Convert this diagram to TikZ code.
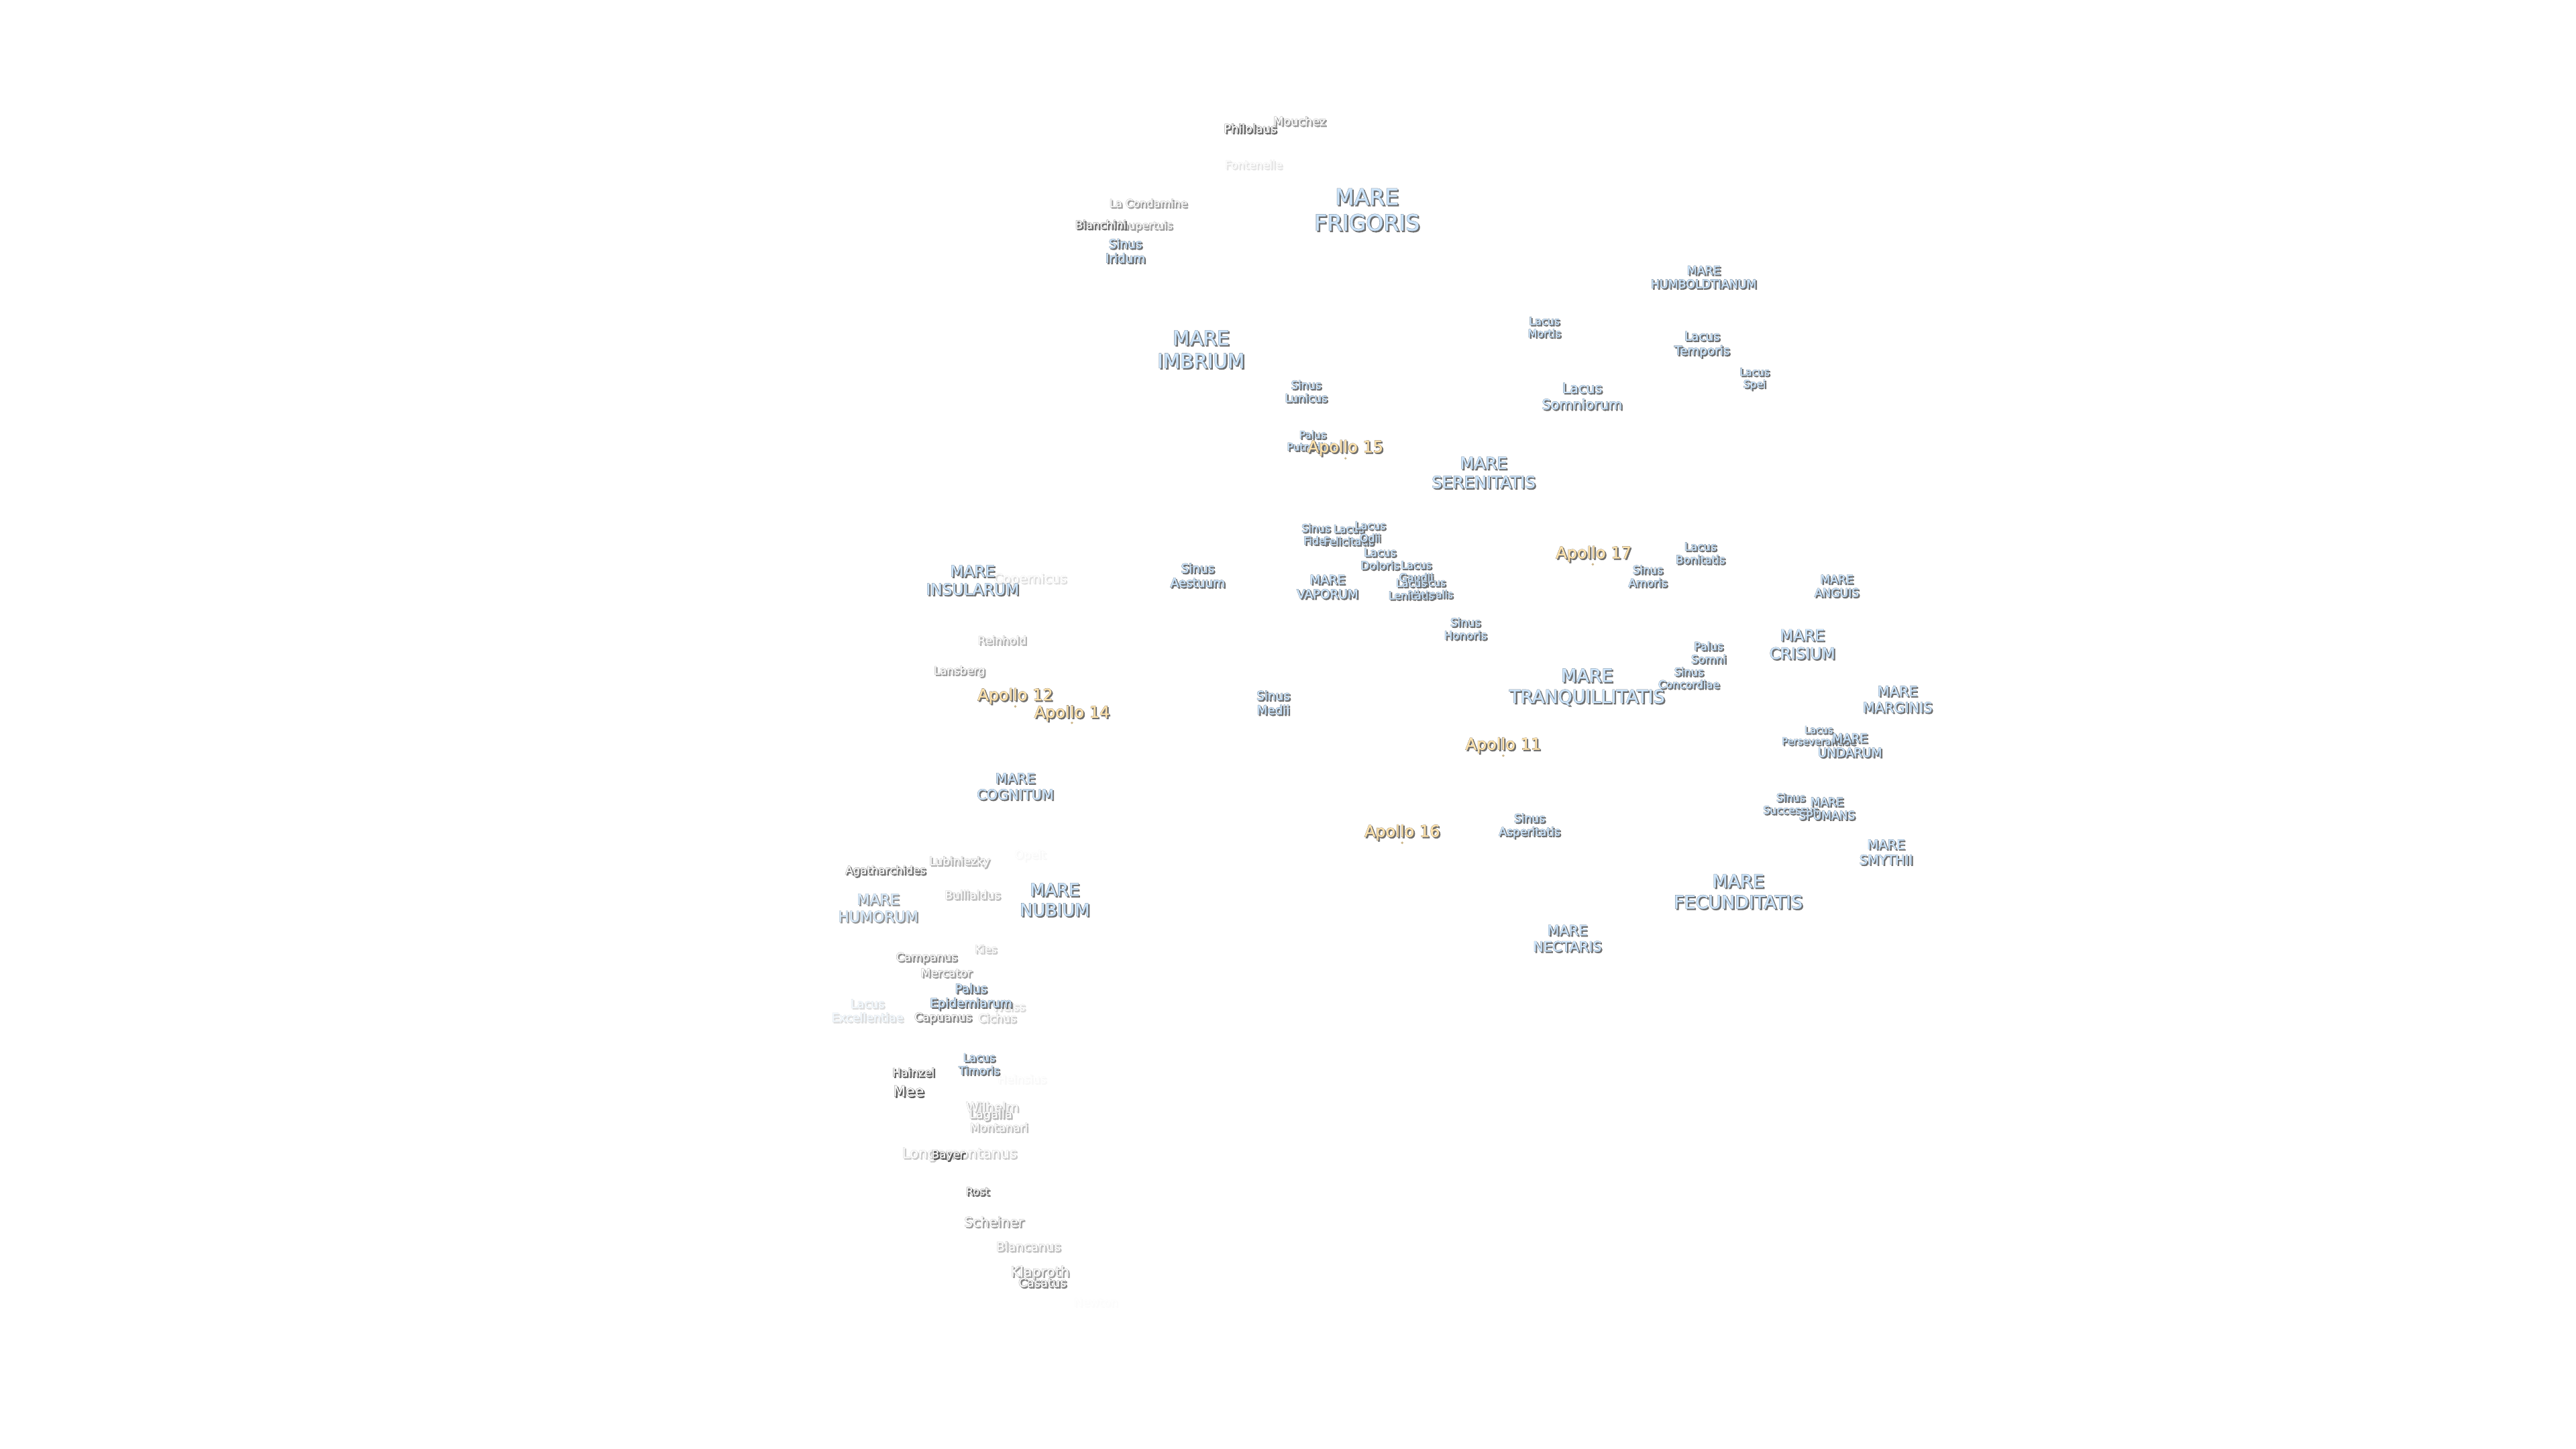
\documentclass[tikz,border=0pt]{standalone}
\usepackage{fontspec}
\usepackage{xcolor}
\setmainfont{DejaVu Sans}
\newfontfamily\moonfat[FakeBold=3.2]{DejaVu Sans}
\newfontfamily\moonfatter[FakeBold=5.5]{DejaVu Sans}
\newfontfamily\moonthin[FakeBold=0.9]{DejaVu Sans}
\newfontfamily\moonthinner[FakeBold=1.8]{DejaVu Sans}
\usetikzlibrary{positioning,calc}
\definecolor{seaface}{HTML}{CCE4FA}
\definecolor{seaedge}{HTML}{6A7886}
\definecolor{seadrop}{HTML}{707070}
\definecolor{pitface}{HTML}{F8F8F8}
\definecolor{pitedge}{HTML}{555555}
\definecolor{pitdrop}{HTML}{5A5A5A}
\definecolor{shipface}{HTML}{FFE4AE}
\definecolor{shipedge}{HTML}{6B6256}
\definecolor{shipdrop}{HTML}{707070}
\tikzset{
    moontext/.style={inner sep=0pt,align=center,anchor=center},
    shipdot/.style={circle,fill=shipface!80!black,inner sep=0pt,minimum size=1.6pt},
}
% [strength]{name}{x,y}{size}{sea|pit|ship}{text}
\newcommand{\moonlabel}[6][100]{%
    \pgfmathsetmacro{\moonlead}{1.164*#4}%
    \ifdim #4pt<8pt \let\moonhalo\moonfatter \let\moonfill\moonthinner \else \let\moonhalo\moonfat \let\moonfill\moonthin \fi
    \node[moontext,text=#5drop!#1!white,font=\moonhalo\fontsize{#4}{\moonlead}\selectfont] (#2drop) at ($(#3)+(0.8,0.45)$) {#6};%
    \node[moontext,text=#5edge!#1!white,font=\moonhalo\fontsize{#4}{\moonlead}\selectfont] (#2edge) at ($(#3)+(0,-0.35)$) {#6};%
    \node[moontext,text=#5face!#1!white,font=\moonfill\fontsize{#4}{\moonlead}\selectfont] (#2) at ($(#3)+(0,-0.35)$) {#6};%
}
\begin{document}
\begin{tikzpicture}[x=1pt,y=-1pt]
    \useasboundingbox (0,0) rectangle (1568,882);

    % faint craters first
    \moonlabel[2]{newton}{667,793}{7}{pit}{Newton}
    \moonlabel[4]{heinsius}{622,657}{7}{pit}{Heinsius}
    \moonlabel[4]{opelt}{627,521}{7}{pit}{Opelt}
    \moonlabel[16]{fontenelle}{763,100.5}{6.7}{pit}{Fontenelle}
    \moonlabel[20]{copernicus}{627,353}{8}{pit}{Copernicus}
    \moonlabel[22]{weiss}{614,613}{7}{pit}{Weiss}
    \moonlabel[32]{longomontanus}{584,703}{8.7}{pit}{Longomontanus}
    \moonlabel[36]{wilhelm}{604,674}{8}{pit}{Wilhelm}
    \moonlabel[45]{lagalla}{603,679}{7.3}{pit}{Lagalla}
    \moonlabel[38]{montanari}{608,686.5}{7}{pit}{Montanari}
    \moonlabel[38]{blancanus}{626,759}{7.6}{pit}{Blancanus}
    \moonlabel[32]{cichus}{607,620}{7}{pit}{Cichus}
    \moonlabel[32]{kies}{600,578}{6.5}{pit}{Kies}
    \moonlabel[40]{bullialdus}{592,545}{7}{pit}{Bullialdus}
    \moonlabel[45]{lubiniezky}{584,525}{7}{pit}{Lubiniezky}
    \moonlabel[45]{reinhold}{610,390}{6.8}{pit}{Reinhold}
    \moonlabel[58]{lansberg}{584,409}{6.8}{pit}{Lansberg}

    % craters
    \moonlabel[62]{mouchez}{791,74}{7.2}{pit}{Mouchez}
    \moonlabel[58]{lacondamine}{699,124}{6.6}{pit}{La Condamine}
    \moonlabel[58]{maupertuis}{695.5,138}{6.5}{pit}{Maupertuis}
    \moonlabel[90]{philolaus}{761,78.5}{7.2}{pit}{Philolaus}
    \moonlabel[90]{bianchini}{670,137}{6.8}{pit}{Bianchini}
    \moonlabel[58]{mercator}{576,592.5}{7}{pit}{Mercator}
    \moonlabel[68]{campanus}{564,583.5}{7}{pit}{Campanus}
    \moonlabel[72]{capuanus}{574,620}{7}{pit}{Capuanus}
    \moonlabel[85]{agatharchides}{539,530.5}{6.8}{pit}{Agatharchides}
    \moonlabel[92]{hainzel}{556,653}{7}{pit}{Hainzel}
    \moonlabel[100]{mee}{553,664.5}{9}{pit}{Mee}
    \moonlabel[100]{bayer}{577,703.5}{6.8}{pit}{Bayer}
    \moonlabel[92]{rost}{595,725.5}{6.5}{pit}{Rost}
    \moonlabel[58]{scheiner}{605,744}{8.3}{pit}{Scheiner}
    \moonlabel[58]{klaproth}{633,775}{8.5}{pit}{Klaproth}
    \moonlabel[76]{casatus}{634.5,781}{7.3}{pit}{Casatus}

    % seas
    \moonlabel{frigoris}{832,128}{13.5}{sea}{MARE\\FRIGORIS}
    \moonlabel{imbrium}{731,213}{12}{sea}{MARE\\IMBRIUM}
    \moonlabel{serenitatis}{903,288}{10}{sea}{MARE\\SERENITATIS}
    \moonlabel{tranquillitatis}{966,418.5}{11}{sea}{MARE\\TRANQUILLITATIS}
    \moonlabel{crisium}{1097,392.5}{9.5}{sea}{MARE\\CRISIUM}
    \moonlabel{fecunditatis}{1058,543}{11}{sea}{MARE\\FECUNDITATIS}
    \moonlabel{nubium}{642,548}{10.5}{sea}{MARE\\NUBIUM}
    \moonlabel[75]{humorum}{534.5,553}{9}{sea}{MARE\\HUMORUM}
    \moonlabel{insularum}{592,353.5}{9.5}{sea}{MARE\\INSULARUM}
    \moonlabel{cognitum}{618,479}{8.5}{sea}{MARE\\COGNITUM}
    \moonlabel{vaporum}{808,357.5}{7.5}{sea}{MARE\\VAPORUM}
    \moonlabel{anguis}{1118,357}{7}{sea}{MARE\\ANGUIS}
    \moonlabel{marginis}{1155,426}{8.5}{sea}{MARE\\MARGINIS}
    \moonlabel{perseverantiae}{1107,448}{6}{sea}{Lacus\\Perseverantiae}
    \moonlabel{undarum}{1126,454}{7.5}{sea}{MARE\\UNDARUM}
    \moonlabel{successus}{1090,489.5}{6.5}{sea}{Sinus\\Successus}
    \moonlabel{spumans}{1112,492.5}{7}{sea}{MARE\\SPUMANS}
    \moonlabel{smythii}{1148,519}{8}{sea}{MARE\\SMYTHII}
    \moonlabel{nectaris}{954,571.5}{8.5}{sea}{MARE\\NECTARIS}
    \moonlabel{humboldtianum}{1037,169}{7.1}{sea}{MARE\\HUMBOLDTIANUM}

    % bays, lakes, marshes
    \moonlabel{iridum}{685,153}{7.5}{sea}{Sinus\\Iridum}
    \moonlabel{somniorum}{963,241.5}{8.5}{sea}{Lacus\\Somniorum}
    \moonlabel{mortis}{940,199.5}{6.5}{sea}{Lacus\\Mortis}
    \moonlabel{temporis}{1036,210}{7.5}{sea}{Lacus\\Temporis}
    \moonlabel{spei}{1068,231}{6.3}{sea}{Lacus\\Spei}
    \moonlabel{lunicus}{795,238.5}{6.8}{sea}{Sinus\\Lunicus}
    \moonlabel{putredinis}{799,268.5}{6.3}{sea}{Palus\\Putredinis}
    \moonlabel{aestuum}{729,350.5}{7.5}{sea}{Sinus\\Aestuum}
    \moonlabel{medii}{775,428}{7.5}{sea}{Sinus\\Medii}
    \moonlabel{fidei}{801,325.5}{6.5}{sea}{Sinus\\Fidei}
    \moonlabel{felicitatis}{821,326}{6.5}{sea}{Lacus\\Felicitatis}
    \moonlabel{odii}{834,324}{6.5}{sea}{Lacus\\Odii}
    \moonlabel{doloris}{840,340.5}{6.8}{sea}{Lacus\\Doloris}
    \moonlabel{gaudii}{862,348}{6.5}{sea}{Lacus\\Gaudii}
    \moonlabel{hiemalis}{871,358.5}{6.2}{sea}{Lacus\\Hiemalis}
    \moonlabel{lenitatis}{859,359}{6.5}{sea}{Lacus\\Lenitatis}
    \moonlabel{honoris}{892,383}{6.8}{sea}{Sinus\\Honoris}
    \moonlabel{amoris}{1003,351}{6.8}{sea}{Sinus\\Amoris}
    \moonlabel{bonitatis}{1035,337}{6.8}{sea}{Lacus\\Bonitatis}
    \moonlabel{somni}{1040,397.5}{6.8}{sea}{Palus\\Somni}
    \moonlabel{concordiae}{1028,413}{6.6}{sea}{Sinus\\Concordiae}
    \moonlabel{asperitatis}{931,503}{7}{sea}{Sinus\\Asperitatis}
    \moonlabel{epidemiarum}{591,607}{7.5}{sea}{Palus\\Epidemiarum}
    \moonlabel{timoris}{596,648}{6.8}{sea}{Lacus\\Timoris}
    \moonlabel[24]{excellentiae}{528,615.5}{7.2}{sea}{Lacus\\Excellentiae}

    % landing sites
    \moonlabel{apollofifteen}{819,273}{9.8}{ship}{Apollo 15}
    \moonlabel{apolloseventeen}{970,337.5}{9.8}{ship}{Apollo 17}
    \moonlabel{apollotwelve}{618,424}{9.8}{ship}{Apollo 12}
    \moonlabel{apollofourteen}{652.5,434.5}{9.8}{ship}{Apollo 14}
    \moonlabel{apolloeleven}{915,454}{9.8}{ship}{Apollo 11}
    \moonlabel{apollosixteen}{853.5,507}{9.8}{ship}{Apollo 16}
    \node[shipdot] (sitefifteen) at (819,279) {};
    \node[shipdot] (siteseventeen) at (969.5,343.5) {};
    \node[shipdot] (sitetwelve) at (618,430) {};
    \node[shipdot] (sitefourteen) at (652.5,440) {};
    \node[shipdot] (siteeleven) at (915,460) {};
    \node[shipdot] (sitesixteen) at (853.5,513) {};
\end{tikzpicture}
\end{document}
